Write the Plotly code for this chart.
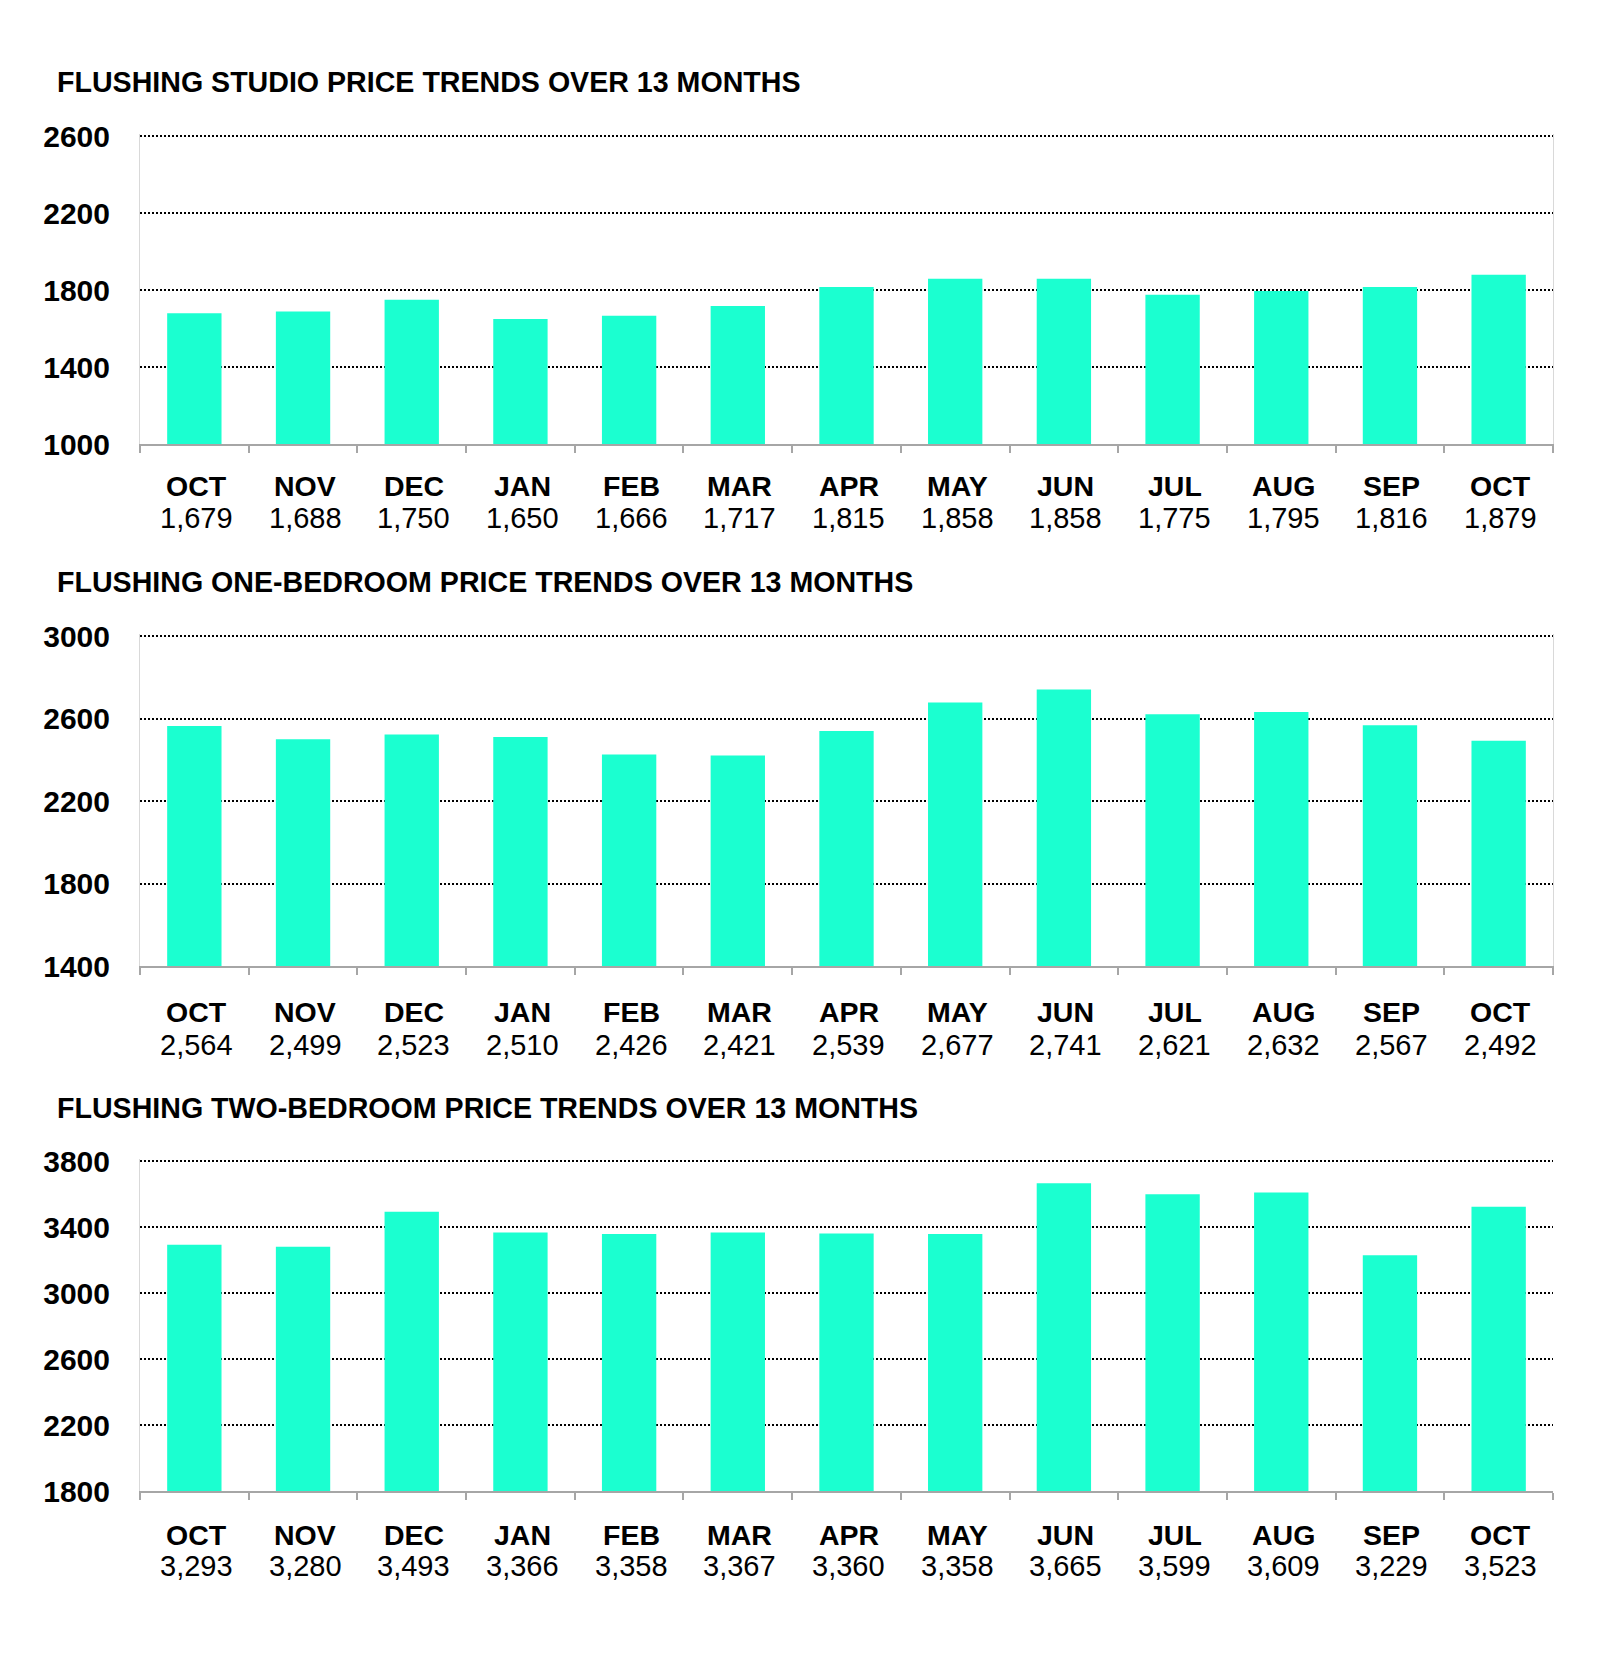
import plotly.graph_objects as go

months = ["OCT", "NOV", "DEC", "JAN", "FEB", "MAR", "APR", "MAY", "JUN", "JUL", "AUG", "SEP", "OCT"]
studio = [1679, 1688, 1750, 1650, 1666, 1717, 1815, 1858, 1858, 1775, 1795, 1816, 1879]
one_bed = [2564, 2499, 2523, 2510, 2426, 2421, 2539, 2677, 2741, 2621, 2632, 2567, 2492]
two_bed = [3293, 3280, 3493, 3366, 3358, 3367, 3360, 3358, 3665, 3599, 3609, 3229, 3523]

titles = [
    "FLUSHING STUDIO PRICE TRENDS OVER 13 MONTHS",
    "FLUSHING ONE-BEDROOM PRICE TRENDS OVER 13 MONTHS",
    "FLUSHING TWO-BEDROOM PRICE TRENDS OVER 13 MONTHS",
]
y_ticks = [
    [1000, 1400, 1800, 2200, 2600],
    [1400, 1800, 2200, 2600, 3000],
    [1800, 2200, 2600, 3000, 3400, 3800],
]
series = [studio, one_bed, two_bed]

# page body has an 8px margin; figure fills the rest of the 1600x1655 window
OFF = 8
W, H = 1600 - 2 * OFF, 1655 - 2 * OFF
FONT = "Liberation Sans, Arial, sans-serif"
BAR = "#1BFFD0"

# page-pixel layout: (top, bottom) of each plot area, title / label rows
panels = [
    dict(top=136, bottom=444, title=82, month=486, value=518, mirror=True),
    dict(top=636, bottom=966, title=582, month=1012, value=1045, mirror=True),
    dict(top=1161, bottom=1491, title=1108, month=1535, value=1566, mirror=False),
]
LEFT, RIGHT = 140, 1553
EXTRA = 2  # px of headroom so the top grid line is not clipped at the edge


def px_x(px):
    return (px - OFF) / W


def px_y(px):
    return 1 - (px - OFF) / H


fig = go.Figure()
n = len(months)
xs = list(range(n))
annotations = []
for i, (p, vals, ticks, title) in enumerate(zip(panels, series, y_ticks, titles)):
    k = "" if i == 0 else str(i + 1)
    span = ticks[-1] - ticks[0]
    hpx = p["bottom"] - p["top"]
    top_val = ticks[-1] + span / hpx * EXTRA
    fig.add_trace(go.Bar(
        x=xs, y=vals, xaxis="x" + k, yaxis="y" + k,
        marker=dict(color=BAR, line=dict(width=0)),
        hoverinfo="y", showlegend=False,
    ))
    fig.update_layout(**{
        "xaxis" + k: dict(
            domain=[px_x(LEFT), px_x(RIGHT)], anchor="y" + k, range=[-0.5, n - 0.5],
            tickvals=[j - 0.5 for j in range(n + 1)], showticklabels=False,
            ticks="outside", ticklen=7, tickwidth=2, tickcolor="#A6A6A6",
            showline=True, linecolor="#A6A6A6", linewidth=2,
            showgrid=False, zeroline=False, fixedrange=True, automargin=False,
        ),
        "yaxis" + k: dict(
            domain=[px_y(p["bottom"]), px_y(p["top"] - EXTRA)], anchor="x" + k,
            range=[ticks[0], top_val], tickvals=ticks,
            tickfont=dict(family=FONT, size=30, color="black", weight="bold"),
            ticks="", ticklabelstandoff=23,
            showline=True, linecolor="#D9D9D9", linewidth=1, mirror=p["mirror"],
            showgrid=True, gridcolor="black", gridwidth=2.4, griddash="2.4px,1.6px",
            zeroline=False, fixedrange=True, automargin=False,
        ),
    })
    annotations.append(dict(
        text="<b>" + title + "</b>", x=px_x(55), y=px_y(p["title"]), xref="paper", yref="paper",
        xanchor="left", yanchor="middle", showarrow=False,
        font=dict(family=FONT, size=28.6, color="black"),
    ))
    for j, (m, v) in enumerate(zip(months, vals)):
        annotations.append(dict(
            text="<b>" + m + "</b>", x=j, y=px_y(p["month"]), xref="x" + k, yref="paper",
            xanchor="center", yanchor="middle", showarrow=False, xshift=2,
            font=dict(family=FONT, size=28.5, color="black"),
        ))
        annotations.append(dict(
            text=f"{v:,}", x=j, y=px_y(p["value"]), xref="x" + k, yref="paper",
            xanchor="center", yanchor="middle", showarrow=False, xshift=2,
            font=dict(family=FONT, size=29, color="black"),
        ))

fig.update_layout(
    width=W, height=H, margin=dict(l=0, r=0, t=0, b=0, pad=0, autoexpand=False),
    paper_bgcolor="white", plot_bgcolor="white",
    bargap=0.5, annotations=annotations,
    font=dict(family=FONT),
)

fig.write_html("out.html")
